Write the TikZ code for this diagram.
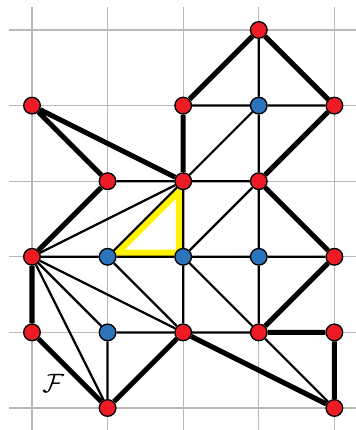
\documentclass[tikz,border=0pt]{standalone}
\usetikzlibrary{backgrounds}
\definecolor{ptred}{HTML}{ED1C24}
\definecolor{ptblue}{HTML}{2B74BB}
\definecolor{triyellow}{HTML}{FFF200}
\begin{document}
\begin{tikzpicture}[
    x=1cm, y=1cm,
    every node/.style={draw, circle, line width=0.5pt, inner sep=0pt, minimum size=0.22cm},
    redv/.style={fill=ptred},
    bluev/.style={fill=ptblue},
    bdedge/.style={draw, line width=1.9pt},
    inedge/.style={draw, line width=0.85pt}
]
    \useasboundingbox (-0.423,-0.291) rectangle (4.273,5.397);
    % vertices
    \node[redv] (v35) at (3,5) {};
    \node[redv] (v04) at (0,4) {};
    \node[redv] (v24) at (2,4) {};
    \node[bluev] (v34) at (3,4) {};
    \node[redv] (v44) at (4,4) {};
    \node[redv] (v13) at (1,3) {};
    \node[redv] (v23) at (2,3) {};
    \node[redv] (v33) at (3,3) {};
    \node[redv] (v02) at (0,2) {};
    \node[bluev] (v12) at (1,2) {};
    \node[bluev] (v22) at (2,2) {};
    \node[bluev] (v32) at (3,2) {};
    \node[redv] (v42) at (4,2) {};
    \node[redv] (v01) at (0,1) {};
    \node[bluev] (v11) at (1,1) {};
    \node[redv] (v21) at (2,1) {};
    \node[redv] (v31) at (3,1) {};
    \node[redv] (v41) at (4,1) {};
    \node[redv] (v10) at (1,0) {};
    \node[redv] (v40) at (4,0) {};
    \node[draw=none, minimum size=0pt, inner sep=1pt] (flabel) at (0.28,0.33) {$\mathcal{F}$};

    \begin{pgfonlayer}{background}
        \draw[gray!55, line width=0.5pt] (-0.3,-0.3) grid (4.3,5.3);
        % marked triangle
        \draw[triyellow, line width=2.6pt] (1.121,2.05) -- (1.95,2.05) -- (1.95,2.879) -- cycle;
        % inner edges
        \path[inedge] (v35) -- (v34) (v24) -- (v34) (v34) -- (v44)
            (v34) -- (v23) (v34) -- (v33) (v13) -- (v23) (v23) -- (v33)
            (v23) -- (v02) (v23) -- (v12) (v23) -- (v22) (v33) -- (v22)
            (v33) -- (v32) (v02) -- (v12) (v12) -- (v22) (v22) -- (v32)
            (v32) -- (v42) (v02) -- (v10) (v02) -- (v11) (v02) -- (v21)
            (v12) -- (v21) (v22) -- (v21) (v22) -- (v31) (v32) -- (v31)
            (v11) -- (v21) (v21) -- (v31) (v11) -- (v10) (v31) -- (v40);
        % boundary
        \path[bdedge] (v35) -- (v44) -- (v33) -- (v42) -- (v31) -- (v41)
            -- (v40) -- (v21) -- (v10) -- (v01) -- (v02) -- (v13)
            -- (v04) -- (v23) -- (v24) -- (v35);
    \end{pgfonlayer}
\end{tikzpicture}
\end{document}
